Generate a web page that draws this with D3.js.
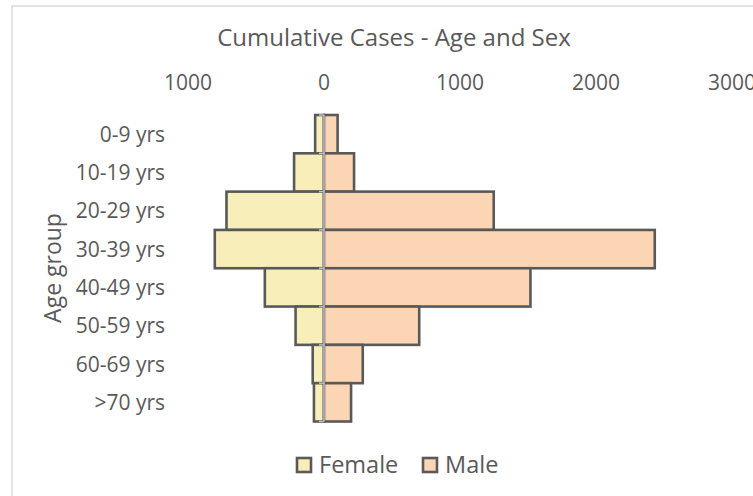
<!DOCTYPE html>
<html>
<head>
<meta charset="utf-8">
<script src="https://cdn.jsdelivr.net/npm/d3@7"></script>
<style>
  body { margin: 0; background: #ffffff; }
  text { font-family: "Open Sans", sans-serif; fill: #595959; }
</style>
</head>
<body>
<div id="pyramid"></div>
<script>
// data
const ageGroups = ["0-9 yrs", "10-19 yrs", "20-29 yrs", "30-39 yrs", "40-49 yrs", "50-59 yrs", "60-69 yrs", ">70 yrs"];
const female = [65, 220, 717, 803, 435, 209, 83, 74];
const male = [100, 221, 1248, 2432, 1518, 700, 285, 199];
const tickValues = [-1000, 0, 1000, 2000, 3000];
const tickLabels = ["1000", "0", "1000", "2000", "3000"];
const seriesNames = ["Female", "Male"];
const seriesColours = ["#f8eeb9", "#fcd5b4"];

const width = 753, height = 496;

const svg = d3.select("#pyramid")
  .append("svg")
  .attr("width", width)
  .attr("height", height);

// chart frame
svg.append("rect")
  .attr("x", 12)
  .attr("y", 6)
  .attr("width", 800)
  .attr("height", 520)
  .attr("fill", "none")
  .attr("stroke", "#d9d9d9")
  .attr("stroke-width", 1.5);

svg.append("text")
  .attr("x", 394)
  .attr("y", 46)
  .attr("text-anchor", "middle")
  .style("font-size", "24px")
  .text("Cumulative Cases - Age and Sex");

const x = d3.scaleLinear()
  .domain([-1000, 3000])
  .range([188, 732]);

const y = d3.scaleBand()
  .domain(ageGroups)
  .range([115, 421.5])
  .padding(0);

// top value axis, labels only (3000 runs off the edge like in the original)
svg.append("g")
  .selectAll("text")
  .data(tickValues)
  .enter()
  .append("text")
  .attr("x", function(d) { return x(d); })
  .attr("y", 90)
  .attr("text-anchor", "middle")
  .style("font-size", "21px")
  .text(function(d, i) { return tickLabels[i]; });

// category labels
svg.append("g")
  .selectAll("text")
  .data(ageGroups)
  .enter()
  .append("text")
  .attr("x", 165)
  .attr("y", function(d) { return y(d) + y.bandwidth() / 2 + 7.5; })
  .attr("text-anchor", "end")
  .style("font-size", "21px")
  .text(function(d) { return d; });

svg.append("text")
  .attr("transform", "translate(61, 268) rotate(-90)")
  .attr("text-anchor", "middle")
  .style("font-size", "23px")
  .text("Age group");

// bars
svg.append("g")
  .selectAll("rect")
  .data(female)
  .enter()
  .append("rect")
  .attr("x", function(d) { return x(-d); })
  .attr("y", function(d, i) { return y(ageGroups[i]); })
  .attr("width", function(d) { return x(0) - x(-d); })
  .attr("height", y.bandwidth())
  .attr("fill", seriesColours[0])
  .attr("stroke", "#595959")
  .attr("stroke-width", 2.6);

svg.append("g")
  .selectAll("rect")
  .data(male)
  .enter()
  .append("rect")
  .attr("x", x(0))
  .attr("y", function(d, i) { return y(ageGroups[i]); })
  .attr("width", function(d) { return x(d) - x(0); })
  .attr("height", y.bandwidth())
  .attr("fill", seriesColours[1])
  .attr("stroke", "#595959")
  .attr("stroke-width", 2.6);

// zero axis with small ticks between groups
const axisX = x(0);
svg.append("line")
  .attr("x1", axisX)
  .attr("x2", axisX)
  .attr("y1", y.range()[0])
  .attr("y2", y.range()[1])
  .attr("stroke", "#bfbfbf")
  .attr("stroke-width", 1.5);

svg.append("g")
  .selectAll("line")
  .data(ageGroups.concat(["end"]))
  .enter()
  .append("line")
  .attr("x1", axisX - 5)
  .attr("x2", axisX)
  .attr("y1", function(d, i) { return y.range()[0] + i * y.step(); })
  .attr("y2", function(d, i) { return y.range()[0] + i * y.step(); })
  .attr("stroke", "#bfbfbf")
  .attr("stroke-width", 1.5);

// legend
const legendX = [296, 422];
const legend = svg.append("g")
  .selectAll("g")
  .data(seriesNames)
  .enter()
  .append("g")
  .attr("transform", function(d, i) { return `translate(${legendX[i]}, 457)`; });

legend.append("rect")
  .attr("x", 1)
  .attr("y", 1)
  .attr("width", 14)
  .attr("height", 14)
  .attr("fill", function(d, i) { return seriesColours[i]; })
  .attr("stroke", "#595959")
  .attr("stroke-width", 2.6);

legend.append("text")
  .attr("x", 23)
  .attr("y", 16)
  .style("font-size", "23.5px")
  .text(function(d) { return d; });
</script>
</body>
</html>
